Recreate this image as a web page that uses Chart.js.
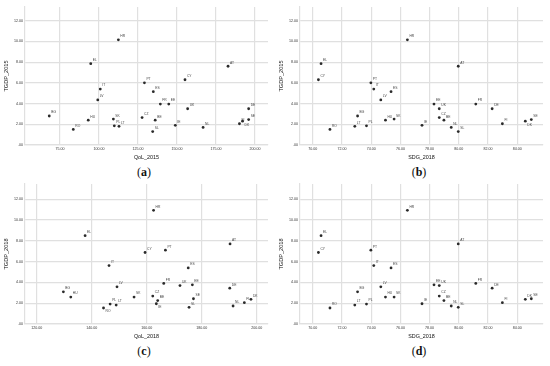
<!DOCTYPE html>
<html>
<head>
<meta charset="utf-8">
<script src="https://cdn.jsdelivr.net/npm/chart.js@4.4.1/dist/chart.umd.min.js"></script>
<style>
  body { margin: 0; background: #fff; }
  #fig { position: relative; width: 550px; height: 366px; }
  .panel { position: absolute; width: 275px; height: 183px; }
  .panel canvas { position: absolute; left: 0; top: 0; }
  .cap { position: absolute; left: 0; width: 288px; top: 165px; text-align: center;
         font: 12px/15px "Liberation Serif", serif; color: #111; }
  .cap b { font-weight: bold; }
</style>
</head>
<body>
<div id="fig">
  <div class="panel" style="left:0;top:0"><canvas id="cA" width="275" height="165"></canvas><div class="cap">(<b>a</b>)</div></div>
  <div class="panel" style="left:275px;top:0"><canvas id="cB" width="275" height="165"></canvas><div class="cap">(<b>b</b>)</div></div>
  <div class="panel" style="left:0;top:179px"><canvas id="cC" width="275" height="165"></canvas><div class="cap">(<b>c</b>)</div></div>
  <div class="panel" style="left:275px;top:179px"><canvas id="cD" width="275" height="165"></canvas><div class="cap">(<b>d</b>)</div></div>
</div>
<script>
// country codes, same order in every array
const countries = ['AT','BE','BG','CY','CZ','DE','DK','EE','EL','ES','FI','FR','HR',
                   'HU','IE','IT','LT','LV','NL','PL','PT','RO','SE','SK','SL','UK'];

const qol2015  = [182.7, 136.0, 68.1, 155.1, 127.6, 195.9, 192.0, 144.7, 94.7, 134.8, 190.0, 139.3, 112.4,
                  93.1, 148.9, 100.8, 112.8, 99.2, 166.7, 109.8, 129.1, 83.5, 195.9, 109.2, 134.4, 156.8];
const qol2018  = [190.3, 164.0, 129.7, 159.4, 162.2, 190.2, 197.9, 176.6, 137.6, 175.1, 195.5, 166.2, 162.5,
                  132.4, 163.5, 146.3, 148.9, 149.2, 191.4, 146.7, 166.8, 144.3, 177.0, 155.4, 175.4, 172.1];
const sdg2018  = [79.96, 78.98, 73.07, 70.39, 78.66, 82.28, 84.55, 78.30, 70.57, 75.36, 82.98, 81.16, 76.48,
                  74.98, 77.48, 74.18, 72.88, 74.66, 79.48, 73.68, 73.98, 71.18, 84.96, 75.57, 79.96, 78.66];
const tgdp2015 = [7.60, 2.40, 2.80, 6.30, 2.65, 3.50, 2.30, 3.95, 7.85, 5.15, 2.05, 3.95, 10.15,
                  2.40, 1.90, 5.40, 1.80, 4.35, 1.70, 1.85, 6.00, 1.50, 2.45, 2.50, 1.30, 3.50];
const tgdp2018 = [7.70, 2.25, 3.10, 6.88, 2.69, 3.45, 2.37, 3.77, 8.50, 5.40, 2.05, 3.90, 10.94,
                  2.59, 1.95, 5.62, 1.82, 3.58, 1.73, 1.92, 7.10, 1.54, 2.43, 2.59, 1.60, 3.70];

// labels drawn under the point instead of above
const labelsBelow = { cA: ['DK'], cB: ['DK'], cC: ['RO', 'IE'], cD: [] };

const FONT = '"Liberation Sans", Arial, sans-serif';
const GRID = '#e0e0e0';

const fmt = v => (v === 0 ? '.00' : v.toFixed(2));

const pointLabels = {
  id: 'pointLabels',
  afterDatasetsDraw(chart) {
    const ctx = chart.ctx;
    const below = labelsBelow[chart.canvas.id] || [];
    ctx.save();
    ctx.font = '3.3px ' + FONT;
    ctx.fillStyle = '#444';
    ctx.textAlign = 'left';
    ctx.textBaseline = 'middle';
    chart.getDatasetMeta(0).data.forEach((pt, i) => {
      const name = countries[i];
      const dy = below.includes(name) ? 3.5 : -3.5;
      ctx.fillText(name, pt.x + 2, pt.y + dy);
    });
    ctx.restore();
  }
};

function makePanel(id, xs, ys, xTitle, yTitle, xMin, xMax, xStep, yMax, topPad) {
  const pts = countries.map((c, i) => ({ x: xs[i], y: ys[i] }));
  new Chart(document.getElementById(id).getContext('2d'), {
    type: 'scatter',
    data: {
      datasets: [{
        data: pts,
        pointRadius: 1.4,
        pointHoverRadius: 1.4,
        pointBackgroundColor: '#2a2a2a',
        pointBorderWidth: 0
      }]
    },
    options: {
      responsive: false,
      animation: false,
      events: [],
      layout: { padding: { top: topPad, right: 7, left: 0, bottom: 0 } },
      plugins: { legend: { display: false }, tooltip: { enabled: false } },
      scales: {
        x: {
          type: 'linear', min: xMin, max: xMax,
          afterFit: s => { s.height = 20; },
          grid: { color: GRID, lineWidth: 1.2, drawTicks: false },
          border: { color: GRID, width: 1.2 },
          ticks: { stepSize: xStep, includeBounds: false, padding: 2, autoSkip: false, maxRotation: 0,
                   color: '#333', font: { size: 3.6, family: FONT }, callback: fmt },
          title: { display: true, text: xTitle, color: '#111', font: { size: 5.4, family: FONT },
                   padding: { top: 0, bottom: 4 } }
        },
        y: {
          min: 0, max: yMax,
          afterFit: s => { s.width = 25; },
          grid: { color: GRID, lineWidth: 1.2, drawTicks: false },
          border: { color: GRID, width: 1.2 },
          ticks: { stepSize: 2, includeBounds: false, padding: 2,
                   color: '#333', font: { size: 3.6, family: FONT }, callback: fmt },
          title: { display: true, text: yTitle, color: '#111', font: { size: 5.6, family: FONT },
                   padding: { top: 3.4, bottom: 0 } }
        }
      }
    },
    plugins: [pointLabels]
  });
}

makePanel('cA', qol2015, tgdp2015, 'QoL_2015', 'TGDP_2015', 52.56, 208.3, 25, 13.32, 7);
makePanel('cB', sdg2018, tgdp2015, 'SDG_2018', 'TGDP_2015', 69.13, 85.76, 2, 13.32, 7);
makePanel('cC', qol2018, tgdp2018, 'QoL_2018', 'TGDP_2018', 115.75, 204.1, 20, 13.47, 5);
makePanel('cD', sdg2018, tgdp2018, 'SDG_2018', 'TGDP_2018', 69.13, 85.76, 2, 13.47, 5);
</script>
</body>
</html>
